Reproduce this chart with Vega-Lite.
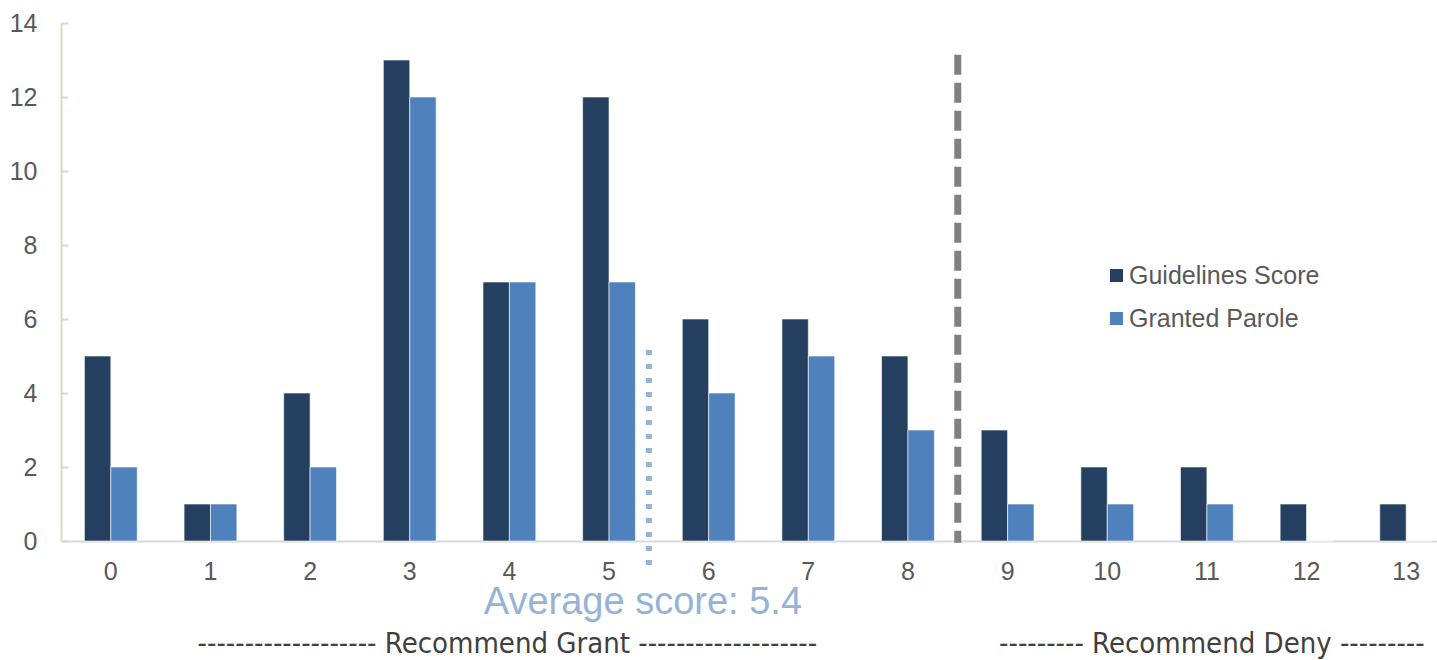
{
  "$schema": "https://vega.github.io/schema/vega-lite/v6.json",
  "width": 1376,
  "height": 518,
  "autosize": {"type": "none"},
  "padding": {"left": 61, "top": 23, "right": 0, "bottom": 119},
  "background": "white",
  "config": {"view": {"stroke": null}, "font": "Liberation Sans"},
  "resolve": {"scale": {"x": "independent"}, "axis": {"x": "independent"}},
  "layer": [
    {
      "data": {
        "values": [
          {"score": 0, "series": "Guidelines Score", "count": 5},
          {"score": 0, "series": "Granted Parole", "count": 2},
          {"score": 1, "series": "Guidelines Score", "count": 1},
          {"score": 1, "series": "Granted Parole", "count": 1},
          {"score": 2, "series": "Guidelines Score", "count": 4},
          {"score": 2, "series": "Granted Parole", "count": 2},
          {"score": 3, "series": "Guidelines Score", "count": 13},
          {"score": 3, "series": "Granted Parole", "count": 12},
          {"score": 4, "series": "Guidelines Score", "count": 7},
          {"score": 4, "series": "Granted Parole", "count": 7},
          {"score": 5, "series": "Guidelines Score", "count": 12},
          {"score": 5, "series": "Granted Parole", "count": 7},
          {"score": 6, "series": "Guidelines Score", "count": 6},
          {"score": 6, "series": "Granted Parole", "count": 4},
          {"score": 7, "series": "Guidelines Score", "count": 6},
          {"score": 7, "series": "Granted Parole", "count": 5},
          {"score": 8, "series": "Guidelines Score", "count": 5},
          {"score": 8, "series": "Granted Parole", "count": 3},
          {"score": 9, "series": "Guidelines Score", "count": 3},
          {"score": 9, "series": "Granted Parole", "count": 1},
          {"score": 10, "series": "Guidelines Score", "count": 2},
          {"score": 10, "series": "Granted Parole", "count": 1},
          {"score": 11, "series": "Guidelines Score", "count": 2},
          {"score": 11, "series": "Granted Parole", "count": 1},
          {"score": 12, "series": "Guidelines Score", "count": 1},
          {"score": 12, "series": "Granted Parole", "count": 0},
          {"score": 13, "series": "Guidelines Score", "count": 1},
          {"score": 13, "series": "Granted Parole", "count": 0}
        ]
      },
      "mark": {"type": "bar", "stroke": "#ffffff", "strokeOpacity": 0.6, "strokeWidth": 1},
      "encoding": {
        "x": {
          "field": "score",
          "type": "ordinal",
          "scale": {"range": [0, 1395], "paddingInner": 0.47, "paddingOuter": 0.235},
          "axis": {
            "title": null,
            "labelAngle": 0,
            "labelFontSize": 25,
            "labelColor": "#595959",
            "ticks": false,
            "domainColor": "#d9d9d9",
            "domainWidth": 2,
            "labelPadding": 18
          }
        },
        "xOffset": {
          "field": "series",
          "sort": ["Guidelines Score", "Granted Parole"],
          "scale": {"paddingInner": 0, "paddingOuter": 0}
        },
        "y": {
          "field": "count",
          "type": "quantitative",
          "scale": {"domain": [0, 14], "nice": false},
          "axis": {
            "title": null,
            "values": [0, 2, 4, 6, 8, 10, 12, 14],
            "grid": false,
            "domainColor": "#ddd9c3",
            "domainWidth": 2,
            "tickColor": "#ddd9c3",
            "tickWidth": 2,
            "tickSize": -7,
            "labelFontSize": 25,
            "labelColor": "#595959",
            "labelPadding": 31
          }
        },
        "color": {
          "field": "series",
          "type": "nominal",
          "sort": ["Guidelines Score", "Granted Parole"],
          "scale": {"range": ["#243f60", "#4f81bd"]},
          "legend": {
            "title": null,
            "orient": "none",
            "legendX": 1043,
            "legendY": 240,
            "symbolType": "square",
            "symbolSize": 169,
            "symbolStrokeWidth": 0,
            "labelFontSize": 25,
            "labelColor": "#595959",
            "labelOffset": 0,
            "labelLimit": 400,
            "rowPadding": 17
          }
        }
      }
    },
    {
      "data": {"values": [{"pos": 8.5, "top": 13.14, "bottom": -0.05}]},
      "mark": {"type": "rule", "color": "#808080", "strokeWidth": 7, "strokeDash": [20, 8], "strokeCap": "butt"},
      "encoding": {
        "x": {"field": "pos", "type": "quantitative", "scale": {"domain": [-0.5, 13.5], "range": [0, 1395], "nice": false, "zero": false}, "axis": null},
        "y": {"field": "top", "type": "quantitative"},
        "y2": {"field": "bottom"}
      }
    },
    {
      "data": {"values": [{"pos": 5.4, "top": 5.16, "bottom": -0.65}]},
      "mark": {"type": "rule", "color": "#95b3d7", "strokeWidth": 6, "strokeDash": [5, 9], "strokeCap": "butt"},
      "encoding": {
        "x": {"field": "pos", "type": "quantitative", "scale": {"domain": [-0.5, 13.5], "range": [0, 1395], "nice": false, "zero": false}, "axis": null},
        "y": {"field": "top", "type": "quantitative"},
        "y2": {"field": "bottom"}
      }
    },
    {
      "data": {"values": [{"pos": 5.34, "level": -1.97, "label": "Average score: 5.4"}]},
      "mark": {"type": "text", "fontSize": 38, "color": "#95b3d7", "align": "center", "baseline": "alphabetic"},
      "encoding": {
        "x": {"field": "pos", "type": "quantitative", "scale": {"domain": [-0.5, 13.5], "range": [0, 1395], "nice": false, "zero": false}, "axis": null},
        "y": {"field": "level", "type": "quantitative"},
        "text": {"field": "label"}
      }
    },
    {
      "data": {
        "values": [
          {"pos": 3.98, "level": -3.04, "label": "------------------- Recommend Grant -------------------"},
          {"pos": 11.05, "level": -3.04, "label": "--------- Recommend Deny ---------"}
        ]
      },
      "mark": {"type": "text", "fontSize": 29, "font": "Liberation Sans Narrow, DejaVu Sans Condensed, Liberation Sans", "color": "#404040", "align": "center", "baseline": "alphabetic"},
      "encoding": {
        "x": {"field": "pos", "type": "quantitative", "scale": {"domain": [-0.5, 13.5], "range": [0, 1395], "nice": false, "zero": false}, "axis": null},
        "y": {"field": "level", "type": "quantitative"},
        "text": {"field": "label"}
      }
    }
  ]
}
